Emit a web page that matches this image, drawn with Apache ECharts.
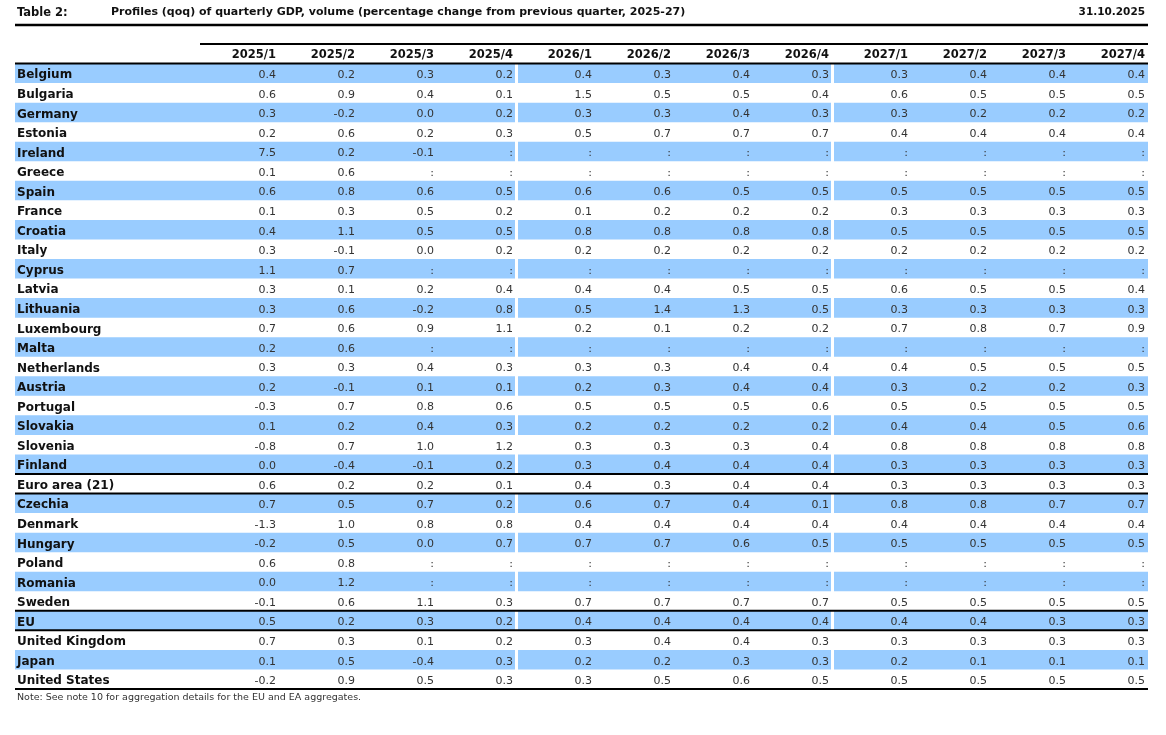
<!DOCTYPE html>
<html>
<head>
<meta charset="utf-8">
<script src="https://cdn.jsdelivr.net/npm/echarts@6/dist/echarts.min.js"></script>
<style>
html, body { margin: 0; padding: 0; background: #fff; }
#main { width: 1166px; height: 735px; }
</style>
</head>
<body>
<div id="main"></div>
<script>
// row labels (top to bottom)
var countries = ['Belgium', 'Bulgaria', 'Germany', 'Estonia', 'Ireland', 'Greece', 'Spain', 'France',
    'Croatia', 'Italy', 'Cyprus', 'Latvia', 'Lithuania', 'Luxembourg', 'Malta', 'Netherlands', 'Austria',
    'Portugal', 'Slovakia', 'Slovenia', 'Finland', 'Euro area (21)', 'Czechia', 'Denmark', 'Hungary',
    'Poland', 'Romania', 'Sweden', 'EU', 'United Kingdom', 'Japan', 'United States'];
var quarters = ['2025/1', '2025/2', '2025/3', '2025/4', '2026/1', '2026/2', '2026/3', '2026/4',
    '2027/1', '2027/2', '2027/3', '2027/4'];

// qoq % change, one array per quarter, null = not available (":")
var q2025_1 = [0.4, 0.6, 0.3, 0.2, 7.5, 0.1, 0.6, 0.1, 0.4, 0.3, 1.1, 0.3, 0.3, 0.7, 0.2, 0.3, 0.2, -0.3, 0.1, -0.8, 0.0, 0.6, 0.7, -1.3, -0.2, 0.6, 0.0, -0.1, 0.5, 0.7, 0.1, -0.2];
var q2025_2 = [0.2, 0.9, -0.2, 0.6, 0.2, 0.6, 0.8, 0.3, 1.1, -0.1, 0.7, 0.1, 0.6, 0.6, 0.6, 0.3, -0.1, 0.7, 0.2, 0.7, -0.4, 0.2, 0.5, 1.0, 0.5, 0.8, 1.2, 0.6, 0.2, 0.3, 0.5, 0.9];
var q2025_3 = [0.3, 0.4, 0.0, 0.2, -0.1, null, 0.6, 0.5, 0.5, 0.0, null, 0.2, -0.2, 0.9, null, 0.4, 0.1, 0.8, 0.4, 1.0, -0.1, 0.2, 0.7, 0.8, 0.0, null, null, 1.1, 0.3, 0.1, -0.4, 0.5];
var q2025_4 = [0.2, 0.1, 0.2, 0.3, null, null, 0.5, 0.2, 0.5, 0.2, null, 0.4, 0.8, 1.1, null, 0.3, 0.1, 0.6, 0.3, 1.2, 0.2, 0.1, 0.2, 0.8, 0.7, null, null, 0.3, 0.2, 0.2, 0.3, 0.3];
var q2026_1 = [0.4, 1.5, 0.3, 0.5, null, null, 0.6, 0.1, 0.8, 0.2, null, 0.4, 0.5, 0.2, null, 0.3, 0.2, 0.5, 0.2, 0.3, 0.3, 0.4, 0.6, 0.4, 0.7, null, null, 0.7, 0.4, 0.3, 0.2, 0.3];
var q2026_2 = [0.3, 0.5, 0.3, 0.7, null, null, 0.6, 0.2, 0.8, 0.2, null, 0.4, 1.4, 0.1, null, 0.3, 0.3, 0.5, 0.2, 0.3, 0.4, 0.3, 0.7, 0.4, 0.7, null, null, 0.7, 0.4, 0.4, 0.2, 0.5];
var q2026_3 = [0.4, 0.5, 0.4, 0.7, null, null, 0.5, 0.2, 0.8, 0.2, null, 0.5, 1.3, 0.2, null, 0.4, 0.4, 0.5, 0.2, 0.3, 0.4, 0.4, 0.4, 0.4, 0.6, null, null, 0.7, 0.4, 0.4, 0.3, 0.6];
var q2026_4 = [0.3, 0.4, 0.3, 0.7, null, null, 0.5, 0.2, 0.8, 0.2, null, 0.5, 0.5, 0.2, null, 0.4, 0.4, 0.6, 0.2, 0.4, 0.4, 0.4, 0.1, 0.4, 0.5, null, null, 0.7, 0.4, 0.3, 0.3, 0.5];
var q2027_1 = [0.3, 0.6, 0.3, 0.4, null, null, 0.5, 0.3, 0.5, 0.2, null, 0.6, 0.3, 0.7, null, 0.4, 0.3, 0.5, 0.4, 0.8, 0.3, 0.3, 0.8, 0.4, 0.5, null, null, 0.5, 0.4, 0.3, 0.2, 0.5];
var q2027_2 = [0.4, 0.5, 0.2, 0.4, null, null, 0.5, 0.3, 0.5, 0.2, null, 0.5, 0.3, 0.8, null, 0.5, 0.2, 0.5, 0.4, 0.8, 0.3, 0.3, 0.8, 0.4, 0.5, null, null, 0.5, 0.4, 0.3, 0.1, 0.5];
var q2027_3 = [0.4, 0.5, 0.2, 0.4, null, null, 0.5, 0.3, 0.5, 0.2, null, 0.5, 0.3, 0.7, null, 0.5, 0.2, 0.5, 0.5, 0.8, 0.3, 0.3, 0.7, 0.4, 0.5, null, null, 0.5, 0.3, 0.3, 0.1, 0.5];
var q2027_4 = [0.4, 0.5, 0.2, 0.4, null, null, 0.5, 0.3, 0.5, 0.2, null, 0.4, 0.3, 0.9, null, 0.5, 0.3, 0.5, 0.6, 0.8, 0.3, 0.3, 0.7, 0.4, 0.5, null, null, 0.5, 0.3, 0.3, 0.1, 0.5];

var columns = [q2025_1, q2025_2, q2025_3, q2025_4, q2026_1, q2026_2, q2026_3, q2026_4,
    q2027_1, q2027_2, q2027_3, q2027_4];

// rows (axis index) whose top edge carries a rule
var ruleRows = [22, 23, 29, 30, 33];

var BLUE = '#99ccff';
var FONT = 'DejaVu Sans';
var LABEL_COL = 185 / 79; // label column width in data-column units
var X_MIN = -LABEL_COL;

// axis categories: header row first
var rowNames = [''].concat(countries);

var cells = [];
for (var c = 0; c < columns.length; ++c) {
    for (var r = 0; r < countries.length; ++r) {
        var v = columns[c][r];
        cells.push({ col: c, row: r + 1, text: v == null ? ':' : v.toFixed(1) });
    }
}
var bands = [];
for (var i = 0; i < countries.length; i += 2) {
    bands.push([0, i + 1]);
}

function rowTop(api, row) {
    var h = api.size([0, 1])[1];
    if (row >= rowNames.length) {
        return api.coord([0, rowNames.length - 1])[1] + h / 2;
    }
    return api.coord([0, row])[1] - h / 2;
}

var chart = echarts.init(document.getElementById('main'), null, { renderer: 'canvas' });
var option = {
    animation: false,
    title: [
        { text: 'Table 2:', left: 17, top: 7, padding: 0, textStyle: { fontFamily: FONT, fontSize: 11.5, fontWeight: 'bold', color: '#111' } },
        { text: 'Profiles (qoq) of quarterly GDP, volume (percentage change from previous quarter, 2025-27)', left: 111, top: 7, padding: 0,
            textStyle: { fontFamily: FONT, fontSize: 11, fontWeight: 'bold', color: '#111' } },
        { text: '31.10.2025', right: 21, top: 7, padding: 0, textStyle: { fontFamily: FONT, fontSize: 10.5, fontWeight: 'bold', color: '#111' } },
        { text: 'Note: See note 10 for aggregation details for the EU and EA aggregates.', left: 17, top: 693, padding: 0,
            textStyle: { fontFamily: FONT, fontSize: 9.5, fontWeight: 'normal', color: '#333' } }
    ],
    graphic: [
        { type: 'line', shape: { x1: 15, y1: 25, x2: 1148, y2: 25 }, style: { stroke: '#000', lineWidth: 2.5 } }
    ],
    grid: { left: 15, right: 18, top: 44, bottom: 46, containLabel: false },
    xAxis: {
        type: 'value', min: X_MIN, max: 12, show: false
    },
    yAxis: {
        type: 'category',
        data: rowNames,
        inverse: true,
        z: 10,
        axisLine: { show: false },
        axisTick: { show: false },
        splitLine: { show: false },
        axisLabel: {
            inside: true, margin: 2, interval: 0,
            formatter: '{n|{value}}',
            rich: {
                n: { padding: [4, 0, 0, 0], fontFamily: FONT, fontSize: 12, fontWeight: 'bold', color: '#111' }
            }
        }
    },
    series: [
        {
            // blue row bands, split by year blocks
            type: 'custom',
            z: 1,
            data: bands,
            renderItem: function (params, api) {
                var row = api.value(1);
                var h = api.size([0, 1])[1];
                var top = api.coord([0, row])[1] - h / 2;
                var edges = [[X_MIN, 4], [4, 8], [8, 12]];
                var children = [];
                for (var k = 0; k < edges.length; ++k) {
                    var x1 = api.coord([edges[k][0], row])[0] + (k > 0 ? 2 : 0);
                    var x2 = api.coord([edges[k][1], row])[0] - (k < 2 ? 1 : 0);
                    children.push({ type: 'rect', shape: { x: x1, y: top, width: x2 - x1, height: h }, style: { fill: BLUE } });
                }
                return { type: 'group', children: children };
            }
        },
        {
            // column headers
            type: 'custom',
            z: 3,
            data: quarters.map(function (q, k) { return [k, 0]; }),
            renderItem: function (params, api) {
                var col = api.value(0);
                var p = api.coord([col + 1, 0]);
                return {
                    type: 'text', x: p[0] - 3, y: p[1] + 1.5,
                    style: { text: quarters[params.dataIndex], align: 'right', verticalAlign: 'middle',
                        fontFamily: FONT, fontSize: 11.5, fontWeight: 'bold', fill: '#111' }
                };
            }
        },
        {
            // values
            type: 'custom',
            z: 3,
            data: cells.map(function (d) { return [d.col, d.row]; }),
            renderItem: function (params, api) {
                var p = api.coord([api.value(0) + 1, api.value(1)]);
                return {
                    type: 'text', x: p[0] - 3, y: p[1] + 2,
                    style: { text: cells[params.dataIndex].text, align: 'right', verticalAlign: 'middle',
                        fontFamily: FONT, fontSize: 11, fill: '#333' }
                };
            }
        },
        {
            // table rules
            type: 'custom',
            z: 4,
            data: [[0, 0], [X_MIN, 1]].concat(ruleRows.map(function (r) { return [X_MIN, r]; })),
            renderItem: function (params, api) {
                var x0 = api.value(0);
                var y = rowTop(api, api.value(1));
                var xa = api.coord([x0, 1])[0];
                var xb = api.coord([12, 1])[0];
                return { type: 'line', shape: { x1: xa, y1: y, x2: xb, y2: y }, style: { stroke: '#000', lineWidth: 2 } };
            }
        }
    ]
};
chart.setOption(option);
</script>
</body>
</html>
